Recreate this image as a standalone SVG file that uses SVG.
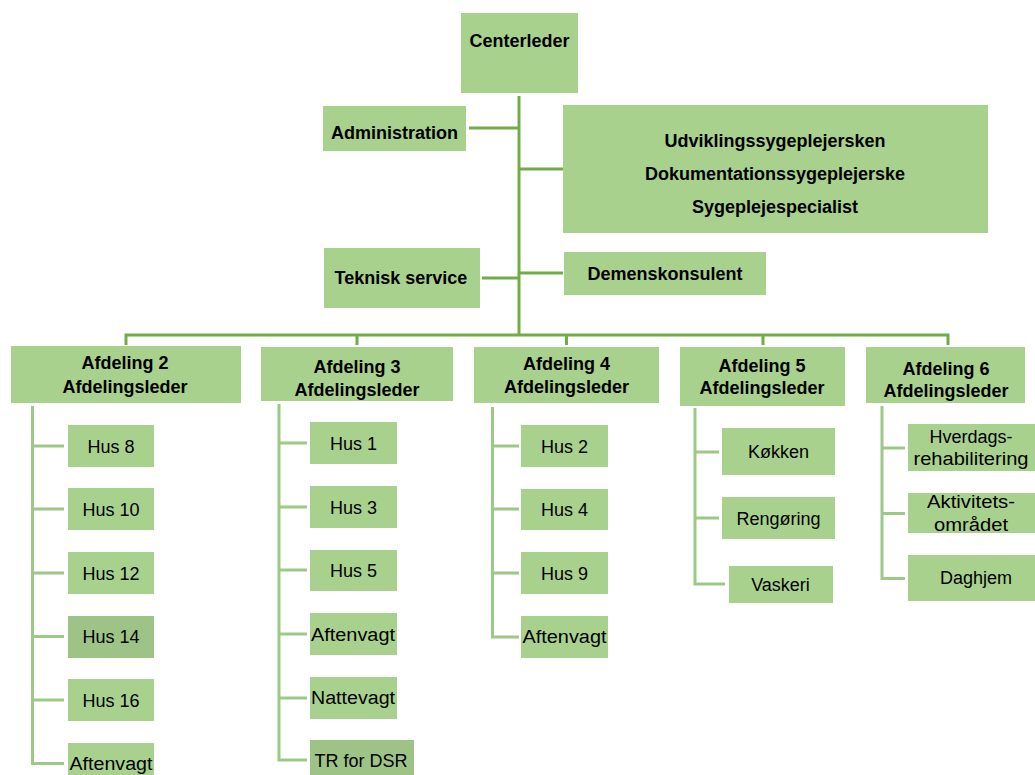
<svg xmlns="http://www.w3.org/2000/svg" width="1035" height="775" viewBox="0 0 1035 775">
<style>
.box{fill:#a9d18e;}
.dark{fill:#9dc387;}
.b{font-family:"Liberation Sans",Arial,sans-serif;font-weight:bold;font-size:18px;fill:#000;text-anchor:middle;}
.t{font-family:"Liberation Sans",Arial,sans-serif;font-size:18px;fill:#000;text-anchor:middle;}
.top{stroke:#70ad47;stroke-width:3;fill:none;}
.sub{stroke:#9cc987;stroke-width:3;fill:none;}
</style>
<rect width="1035" height="775" fill="#ffffff"/>
<g id="connectors">
<path class="top" d="M519 96 V335 M469 128 H519 M519 169 H563 M482 278 H519 M519 273 H563 M126 345 V335 H948 V345 M357 335 V345 M566.5 335 V345 M763 335 V345"/>
<path class="sub" d="M32.5 406 V763.5 H64 M32.5 446 H64 M32.5 509 H64 M32.5 573 H64 M32.5 636.5 H64 M32.5 700 H64"/>
<path class="sub" d="M279 404 V760 H307 M279 443 H307 M279 507 H307 M279 570 H307 M279 634 H307 M279 698 H307"/>
<path class="sub" d="M492.5 407 V637 H519 M492.5 446 H519 M492.5 509 H519 M492.5 573 H519"/>
<path class="sub" d="M695 408 V584 H725 M695 452 H719 M695 518 H719"/>
<path class="sub" d="M882 406 V578.5 H905 M882 448 H905 M882 513.5 H905"/>
</g>
<g id="centerleder"><rect class="box" x="461" y="13" width="117" height="80"/><text class="b" x="519.5" y="47">Centerleder</text></g>
<g id="administration"><rect class="box" x="323" y="106" width="143" height="45"/><text class="b" x="394.5" y="139">Administration</text></g>
<g id="specialister"><rect class="box" x="563" y="105" width="425" height="128"/>
<text class="b" x="775" y="147">Udviklingssygeplejersken</text>
<text class="b" x="775" y="180">Dokumentationssygeplejerske</text>
<text class="b" x="775" y="213">Sygeplejespecialist</text></g>
<g id="teknisk"><rect class="box" x="324" y="248" width="156" height="60"/><text class="b" x="401" y="284">Teknisk service</text></g>
<g id="demens"><rect class="box" x="564" y="252" width="202" height="43"/><text class="b" x="665" y="280">Demenskonsulent</text></g>
<g id="afd2"><rect class="box" x="11" y="346" width="230" height="57"/><text class="b" x="125" y="369">Afdeling 2</text><text class="b" x="125" y="393">Afdelingsleder</text></g>
<g id="afd3"><rect class="box" x="261" y="347" width="192" height="54"/><text class="b" x="357" y="373">Afdeling 3</text><text class="b" x="357" y="396">Afdelingsleder</text></g>
<g id="afd4"><rect class="box" x="474" y="347" width="185" height="56"/><text class="b" x="566.5" y="370">Afdeling 4</text><text class="b" x="566.5" y="393">Afdelingsleder</text></g>
<g id="afd5"><rect class="box" x="680" y="347" width="165" height="59"/><text class="b" x="762" y="371.5">Afdeling 5</text><text class="b" x="762" y="394">Afdelingsleder</text></g>
<g id="afd6"><rect class="box" x="866" y="347" width="159" height="56"/><text class="b" x="946" y="375">Afdeling 6</text><text class="b" x="946" y="397">Afdelingsleder</text></g>
<g id="hus8"><rect class="box" x="68" y="425" width="86" height="42"/><text class="t" x="111" y="452.5">Hus 8</text></g>
<g id="hus10"><rect class="box" x="68" y="488" width="86" height="42"/><text class="t" x="111" y="515.5">Hus 10</text></g>
<g id="hus12"><rect class="box" x="68" y="552" width="86" height="42"/><text class="t" x="111" y="579.5">Hus 12</text></g>
<g id="hus14"><rect class="dark" x="68" y="616" width="86" height="42"/><text class="t" x="111" y="643">Hus 14</text></g>
<g id="hus16"><rect class="box" x="68" y="679" width="86" height="42"/><text class="t" x="111" y="706.5">Hus 16</text></g>
<g id="aften2"><rect class="box" x="68" y="743" width="86" height="42"/><text class="t" x="111" y="770" textLength="83" lengthAdjust="spacingAndGlyphs">Aftenvagt</text></g>
<g id="hus1"><rect class="box" x="310" y="422" width="87" height="42"/><text class="t" x="353.5" y="449.5">Hus 1</text></g>
<g id="hus3"><rect class="box" x="310" y="486" width="87" height="42"/><text class="t" x="353.5" y="513.5">Hus 3</text></g>
<g id="hus5"><rect class="box" x="310" y="550" width="87" height="41"/><text class="t" x="353.5" y="577">Hus 5</text></g>
<g id="aften3"><rect class="box" x="310" y="613" width="87" height="42"/><text class="t" x="353" y="640.5" textLength="84" lengthAdjust="spacingAndGlyphs">Aftenvagt</text></g>
<g id="natte3"><rect class="box" x="310" y="677" width="87" height="42"/><text class="t" x="353" y="704" textLength="84" lengthAdjust="spacingAndGlyphs">Nattevagt</text></g>
<g id="trdsr"><rect class="dark" x="310" y="740" width="104" height="40"/><text class="t" x="361" y="767">TR for DSR</text></g>
<g id="hus2"><rect class="box" x="521" y="425" width="87" height="42"/><text class="t" x="564.5" y="452.5">Hus 2</text></g>
<g id="hus4"><rect class="box" x="521" y="489" width="87" height="41"/><text class="t" x="564.5" y="516">Hus 4</text></g>
<g id="hus9"><rect class="box" x="521" y="552" width="87" height="42"/><text class="t" x="564.5" y="579.5">Hus 9</text></g>
<g id="aften4"><rect class="box" x="521" y="616" width="87" height="42"/><text class="t" x="564.5" y="643.3" textLength="84" lengthAdjust="spacingAndGlyphs">Aftenvagt</text></g>
<g id="kokken"><rect class="box" x="722" y="428" width="113" height="47"/><text class="t" x="778.5" y="458">Køkken</text></g>
<g id="rengoring"><rect class="box" x="722" y="497" width="113" height="42"/><text class="t" x="778.5" y="525">Rengøring</text></g>
<g id="vaskeri"><rect class="box" x="729" y="566" width="104" height="37"/><text class="t" x="780.5" y="591">Vaskeri</text></g>
<g id="hverdags"><rect class="box" x="908" y="424" width="127" height="47"/><text class="t" x="971" y="442.5">Hverdags-</text><text class="t" x="971" y="465" textLength="115" lengthAdjust="spacingAndGlyphs">rehabilitering</text></g>
<g id="aktivitet"><rect class="box" x="908" y="493" width="127" height="40"/><text class="t" x="971" y="508" textLength="88" lengthAdjust="spacingAndGlyphs">Aktivitets-</text><text class="t" x="971" y="530.5" textLength="74" lengthAdjust="spacingAndGlyphs">området</text></g>
<g id="daghjem"><rect class="box" x="908" y="555" width="127" height="46"/><text class="t" x="976" y="584">Daghjem</text></g>
</svg>
